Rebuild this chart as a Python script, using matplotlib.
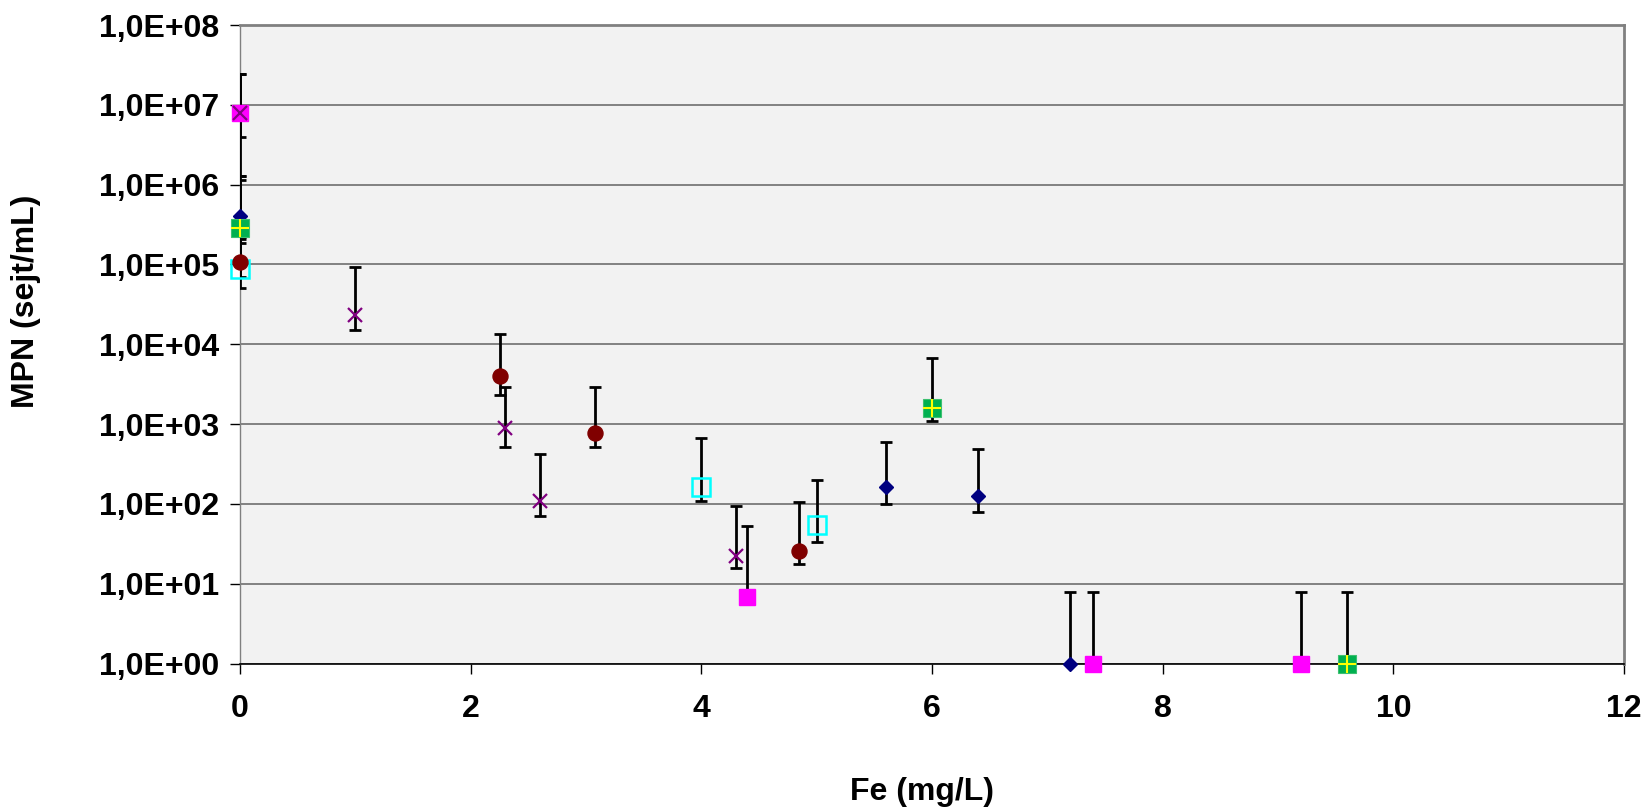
import matplotlib
matplotlib.use("Agg")
import matplotlib.pyplot as plt
from matplotlib.ticker import FixedLocator, FuncFormatter, NullLocator
import numpy as np

plt.rcParams['font.family'] = ['Liberation Sans', 'DejaVu Sans']
plt.rcParams['font.weight'] = 'bold'

# Series data: x (Fe mg/L), y (MPN), lower and upper bounds of error bars
navy_x = [0.0, 5.6, 6.4, 7.2]
navy_y = [4.0e5, 165, 125, 1]
navy_lo = [2.1e5, 100, 80, 1]
navy_hi = [1.28e6, 600, 485, 7.8]

mag_x = [0.0, 4.4, 7.4, 9.2]
mag_y = [8.0e6, 6.9, 1, 1]
mag_lo = [3.9e6, 6.9, 1, 1]
mag_hi = [2.4e7, 53, 7.8, 7.8]

purp_x = [0.0, 1.0, 2.3, 2.6, 4.3]
purp_y = [8.0e6, 2.3e4, 905, 109, 22]
purp_lo = [1.3e6, 1.5e4, 510, 71, 15.7]
purp_hi = [2.4e7, 9.3e4, 2950, 425, 94]

cyan_x = [0.0, 4.0, 5.0]
cyan_y = [8.8e4, 161, 55]
cyan_lo = [5.0e4, 110, 33]
cyan_hi = [2.2e5, 664, 199]

red_x = [0.0, 2.25, 3.08, 4.85]
red_y = [1.07e5, 4000, 778, 25.5]
red_lo = [7.0e4, 2300, 510, 17.7]
red_hi = [3.0e5, 1.34e4, 2950, 107]

green_x = [0.0, 6.0, 9.6]
green_y = [2.9e5, 1600, 1]
green_lo = [1.84e5, 1100, 1]
green_hi = [1.15e6, 6680, 7.8]

x_ticks = [0, 2, 4, 6, 8, 10, 12]
y_ticks = [1e0, 1e1, 1e2, 1e3, 1e4, 1e5, 1e6, 1e7, 1e8]
x_label = "Fe (mg/L)"
y_label = "MPN (sejt/mL)"

fig = plt.figure(figsize=(16.44, 8.07), dpi=100)
W, H = 1644, 807
left, right, top, bottom = 240, 1624, 25, 663.5
ax = fig.add_axes([left / W, 1 - bottom / H, (right - left) / W, (bottom - top) / H])
ax.set_facecolor('#F2F2F2')
ax.set_yscale('log')
ax.set_xlim(0, 12)
ax.set_ylim(1, 1e8)

ax.yaxis.set_major_locator(FixedLocator(y_ticks))
ax.yaxis.set_minor_locator(NullLocator())
ax.xaxis.set_major_locator(FixedLocator(x_ticks))

def yfmt(v, pos):
    e = int(round(np.log10(v)))
    return "1,0E+%02d" % e
ax.yaxis.set_major_formatter(FuncFormatter(yfmt))
ax.xaxis.set_major_formatter(FuncFormatter(lambda v, p: "%d" % v))

ax.grid(axis='y', color='#6E6E6E', linewidth=1.2, zorder=1)
ax.set_axisbelow(True)

for s in ['top', 'right']:
    ax.spines[s].set_color('#808080')
    ax.spines[s].set_linewidth(2)
ax.spines['left'].set_color('#808080')
ax.spines['left'].set_linewidth(1)
ax.spines['bottom'].set_color('#000000')
ax.spines['bottom'].set_linewidth(1.2)

ax.tick_params(axis='y', direction='out', length=7, width=1, color='#000000',
               labelsize=23, pad=8)
ax.tick_params(axis='x', direction='out', length=7, width=1, color='#000000',
               labelsize=23, pad=15)
for lab in ax.get_xticklabels() + ax.get_yticklabels():
    lab.set_fontweight('bold')

def err(ax, xs, ys, lo, hi):
    ys = np.array(ys); lo = np.array(lo); hi = np.array(hi)
    ax.errorbar(xs, ys, yerr=[ys - lo, hi - ys], fmt='none', ecolor='black',
                elinewidth=2.0, capsize=4.2, capthick=2.0, zorder=3, clip_on=True)

series = [
    (navy_x, navy_y, navy_lo, navy_hi),
    (mag_x, mag_y, mag_lo, mag_hi),
    (purp_x, purp_y, purp_lo, purp_hi),
    (cyan_x, cyan_y, cyan_lo, cyan_hi),
    (red_x, red_y, red_lo, red_hi),
    (green_x, green_y, green_lo, green_hi),
]
for sx, sy, slo, shi in series:
    err(ax, sx, sy, slo, shi)

ax.plot(navy_x, navy_y, linestyle='none', marker='D', ms=7.6, color='#000080',
        zorder=5, clip_on=False)
ax.plot(mag_x, mag_y, linestyle='none', marker='s', ms=11.0, color='#FF00FF',
        zorder=5, clip_on=False)
ax.plot(purp_x, purp_y, linestyle='none', marker='x', ms=10.0, mew=1.6,
        color='#800080', zorder=6, clip_on=False)
ax.plot(cyan_x, cyan_y, linestyle='none', marker='s', ms=12.3, mew=1.8,
        markerfacecolor='none', markeredgecolor='#00FFFF', zorder=6, clip_on=False)
ax.plot(red_x, red_y, linestyle='none', marker='o', ms=10.8, color='#800000',
        zorder=7, clip_on=False)
ax.plot(green_x, green_y, linestyle='none', marker='s', ms=13.2, mew=0.8,
        markerfacecolor='#00B050', markeredgecolor='#3CC070', zorder=8, clip_on=False)
ax.plot(green_x, green_y, linestyle='none', marker='+', ms=13.2, mew=1.5,
        color='#FFFF00', zorder=9, clip_on=False)

ax.set_xlabel(x_label, fontsize=23, fontweight='bold')
ax.set_ylabel(y_label, fontsize=23, fontweight='bold')
ax.xaxis.set_label_coords((922 - left) / (right - left), -(792 - bottom) / (bottom - top))
ax.yaxis.set_label_coords(-(left - 26) / (right - left), (bottom - 301) / (bottom - top))
ax.xaxis.label.set_va('center')
ax.yaxis.label.set_va('center')

fig.savefig("out.png", dpi=100)
